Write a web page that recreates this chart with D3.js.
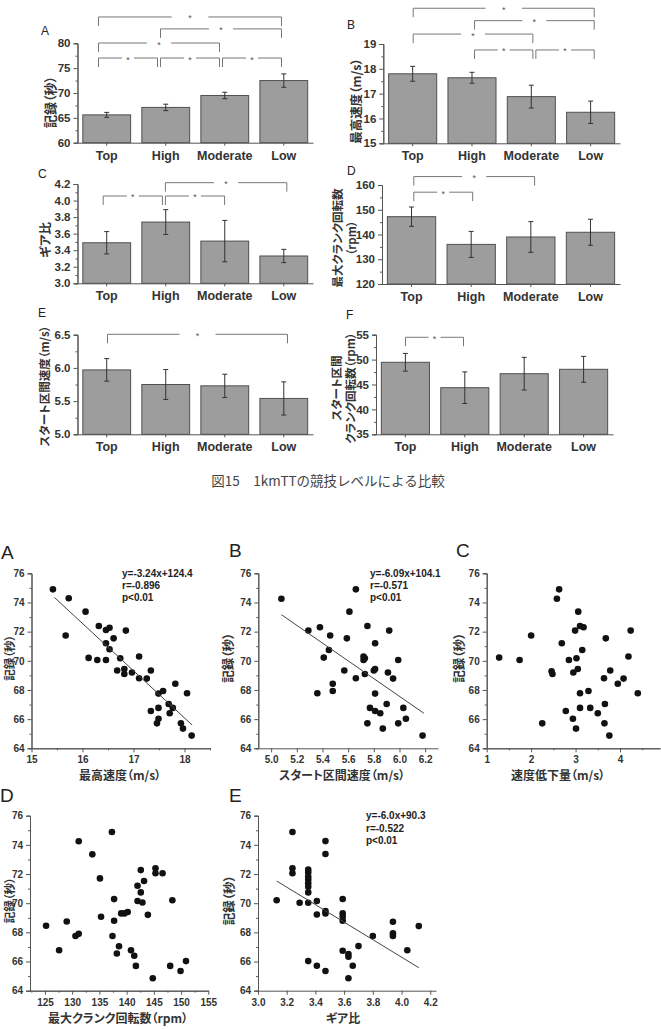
<!DOCTYPE html>
<html>
<head>
<meta charset="utf-8">
<script src="https://cdn.jsdelivr.net/npm/d3@7"></script>
<style>
body { margin: 0; background: #fff; }
text { fill: #333; }
.jp { font-family: "Noto Sans CJK JP", sans-serif; font-weight: bold; font-feature-settings: "palt"; }
.num { font-family: "Liberation Sans", Arial, sans-serif; font-weight: bold; }
.letter { font-family: "Liberation Sans", Arial, sans-serif; font-weight: normal; fill: #222; }
</style>
</head>
<body>
<div id="chart"></div>
<script>
var groups = ["Top", "High", "Moderate", "Low"];

// Fig.15 bar panels: mean, SD, axis ticks, significant pairs [from, to, bracket height]
var recordMean = [65.6, 67.1, 69.5, 72.5];
var recordSd = [0.5, 0.65, 0.65, 1.35];
var recordTicks = [60, 65, 70, 75, 80];
var recordSig = [[0, 3, 85.3], [1, 3, 82.9], [0, 2, 80.06], [0, 1, 77.04], [1, 2, 77.04], [2, 3, 77.04]];

var topSpeedMean = [17.8, 17.64, 16.88, 16.25];
var topSpeedSd = [0.3, 0.22, 0.46, 0.45];
var topSpeedTicks = [15, 16, 17, 18, 19];
var topSpeedSig = [[0, 3, 20.44], [1, 3, 19.94], [0, 2, 19.4], [1, 2, 18.76], [2, 3, 18.76]];

var gearMean = [3.49, 3.74, 3.51, 3.33];
var gearSd = [0.135, 0.15, 0.25, 0.08];
var gearTicks = [3.0, 3.2, 3.4, 3.6, 3.8, 4.0, 4.2];
var gearSig = [[1, 3, 4.216], [0, 1, 4.055], [1, 2, 4.055]];

var crankMean = [147.2, 136.0, 139.0, 140.9];
var crankSd = [3.9, 5.25, 6.2, 5.25];
var crankTicks = [120, 130, 140, 150, 160];
var crankSig = [[0, 2, 163.4], [0, 1, 157.1]];

var startSpeedMean = [5.97, 5.75, 5.73, 5.54];
var startSpeedSd = [0.17, 0.225, 0.175, 0.25];
var startSpeedTicks = [5.0, 5.5, 6.0, 6.5];
var startSpeedSig = [[0, 3, 6.506]];

var startCrankMean = [49.46, 44.36, 47.17, 48.05];
var startCrankSd = [1.78, 3.17, 3.28, 2.6];
var startCrankTicks = [35, 40, 45, 50, 55];
var startCrankSig = [[0, 1, 54.48]];

// scatter panels: record (s) against each variable
var recordTicksScatter = [64, 66, 68, 70, 72, 74, 76];

var speedX = [15.42, 15.73, 15.67, 16.06, 16.12, 16.29, 16.46, 16.32, 16.46, 16.53, 16.46, 16.61, 16.53, 16.85, 16.74, 17.11, 16.68, 16.82, 16.82, 16.97, 17.34, 17.11, 17.26, 17.82, 17.49, 17.58, 18.05, 17.69, 17.77, 17.49, 17.34, 17.71, 17.46, 17.49, 17.93, 17.97, 18.14];
var speedY = [74.9, 74.29, 71.73, 73.37, 70.2, 70.06, 70.06, 72.39, 72.11, 72.27, 71.2, 71.54, 70.79, 72.07, 70.17, 70.29, 69.33, 69.44, 69.1, 69.2, 69.33, 68.8, 68.78, 68.43, 67.75, 67.93, 67.77, 67.04, 66.77, 66.77, 66.56, 66.4, 65.71, 66.03, 65.71, 65.35, 64.87];
var speedTicks = [15, 16, 17, 18];
var speedFit = [-3.24, 124.4, 15.45, 18.15];
var speedStats = ["y=-3.24x+124.4", "r=-0.896", "p<0.01"];

var startX = [5.08, 5.29, 5.38, 5.46, 5.45, 5.41, 5.36, 5.48, 5.48, 5.57, 5.59, 5.61, 5.66, 5.66, 5.72, 5.72, 5.73, 5.73, 5.75, 5.75, 5.77, 5.80, 5.81, 5.81, 5.81, 5.81, 5.85, 5.87, 5.90, 5.91, 5.92, 5.95, 5.99, 5.99, 6.03, 6.05, 6.18];
var startY = [74.26, 72.07, 72.3, 71.73, 70.74, 70.22, 67.77, 68.43, 67.93, 69.33, 71.54, 73.37, 74.9, 68.8, 70.29, 70.06, 70.17, 69.1, 72.39, 65.71, 66.77, 69.33, 69.44, 71.2, 67.75, 66.56, 66.4, 65.35, 67.04, 69.2, 72.07, 68.78, 70.06, 65.71, 66.77, 66.03, 64.87];
var startTicks = [5.0, 5.2, 5.4, 5.6, 5.8, 6.0, 6.2];
var startFit = [-6.09, 104.1, 5.08, 6.19];
var startStats = ["y=-6.09x+104.1", "r=-0.571", "p<0.01"];

var dropX = [2.63, 2.58, 3.06, 2.00, 2.69, 2.99, 3.10, 3.18, 3.15, 3.68, 4.24, 1.28, 1.74, 2.85, 3.02, 4.19, 2.46, 2.48, 2.95, 3.05, 3.78, 3.64, 4.08, 3.95, 3.29, 3.10, 4.40, 2.78, 3.10, 3.33, 3.66, 3.50, 2.25, 2.94, 3.01, 3.65, 3.76];
var dropY = [74.9, 74.26, 73.37, 71.73, 71.2, 72.07, 72.39, 72.3, 70.74, 71.54, 72.07, 70.22, 70.06, 70.06, 70.17, 70.29, 69.28, 69.1, 69.2, 69.44, 69.33, 68.8, 68.78, 68.43, 67.93, 67.77, 67.77, 66.56, 66.77, 66.77, 67.04, 66.4, 65.71, 66.03, 65.35, 65.71, 64.87];
var dropTicks = [1, 2, 3, 4];

var crankX = [125.2, 127.6, 129.0, 130.6, 131.2, 131.2, 133.7, 135.1, 135.3, 137.3, 137.7, 137.7, 137.4, 138.6, 138.2, 139.0, 139.6, 140.2, 140.8, 141.4, 141.7, 142.0, 142.0, 142.6, 142.6, 142.9, 143.2, 143.9, 144.8, 145.3, 145.3, 146.6, 148.4, 148.0, 149.9, 150.9];
var crankY = [68.45, 66.77, 68.75, 67.75, 67.9, 74.25, 73.35, 71.7, 69.07, 74.88, 70.28, 68.8, 67.75, 67.05, 66.55, 69.3, 69.3, 69.4, 66.77, 66.4, 65.7, 71.2, 70.15, 72.27, 70.74, 70.05, 71.52, 69.2, 64.85, 72.39, 72.05, 72.05, 70.2, 65.7, 65.35, 66.03];
var crankScatterTicks = [125, 130, 135, 140, 145, 150, 155];

var gearX = [3.13, 3.24, 3.24, 3.24, 3.29, 3.35, 3.35, 3.35, 3.35, 3.35, 3.35, 3.35, 3.35, 3.35, 3.41, 3.41, 3.41, 3.47, 3.47, 3.47, 3.47, 3.47, 3.59, 3.59, 3.59, 3.59, 3.59, 3.63, 3.63, 3.63, 3.66, 3.70, 3.80, 3.94, 3.94, 3.94, 4.04, 4.12];
var gearY = [70.2, 74.88, 72.39, 72.05, 70.03, 72.3, 72.1, 71.82, 71.6, 71.36, 71.13, 70.74, 70.03, 66.03, 70.15, 69.23, 65.71, 74.26, 73.37, 69.46, 69.3, 65.35, 70.29, 69.3, 69.07, 68.8, 66.74, 66.51, 66.33, 64.85, 65.71, 67.06, 67.75, 68.73, 67.93, 67.75, 66.77, 68.43];
var gearScatterTicks = [3.0, 3.2, 3.4, 3.6, 3.8, 4.0, 4.2];
var gearFit = [-6.0, 90.3, 3.13, 4.12];
var gearStats = ["y=-6.0x+90.3", "r=-0.522", "p<0.01"];

var width = 661;
var height = 1029;
var svg = d3.select('#chart')
    .append("svg")
    .attr("width", width)
    .attr("height", height);

function styleAxis(sel) {
    sel.select('.domain').attr('stroke', '#555');
    sel.selectAll('.tick line').attr('stroke', '#555');
    sel.selectAll('.tick text').attr('fill', '#333');
}

function minorValues(ticks, dom) {
    var step = ticks[1] - ticks[0];
    return d3.range(ticks[0] - step / 2, dom[1] + 1e-9, step)
        .filter(function (v) { return v >= dom[0] - 1e-9; });
}

function rotatedText(g, lines, xs, y, size) {
    lines.forEach(function (t, i) {
        g.append('text')
            .classed('jp', true)
            .attr('transform', 'translate(' + xs[i] + ',' + y + ') rotate(-90)')
            .attr('text-anchor', 'middle')
            .attr('dominant-baseline', 'central')
            .style('font-size', size + 'px')
            .text(t);
    });
}

var barPanels = [
    { letter: "A", mean: recordMean, sd: recordSd, ticks: recordTicks, sig: recordSig, fmt: "d",
      x: [77.5, 313], y: [142.7, 43.3], br: [97, 283], title: ["記録（秒）"], tx: [49], ty: 102, ts: 13, lx: 41, ly: 35 },
    { letter: "B", mean: topSpeedMean, sd: topSpeedSd, ticks: topSpeedTicks, sig: topSpeedSig, fmt: "d",
      x: [383.3, 620], y: [143.3, 44], br: [411.7, 595.7], title: ["最高速度（m/s）"], tx: [355], ty: 101, ts: 12.5, lx: 347, ly: 29 },
    { letter: "C", mean: gearMean, sd: gearSd, ticks: gearTicks, sig: gearSig, fmt: ".1f",
      x: [77.5, 313], y: [283.3, 184], br: [101.7, 288.3], title: ["ギア比"], tx: [44], ty: 240, ts: 12.5, lx: 38, ly: 178 },
    { letter: "D", mean: crankMean, sd: crankSd, ticks: crankTicks, sig: crankSig, fmt: "d",
      x: [382, 620], y: [284, 185], br: [412.3, 598], title: ["最大クランク回転数", "（rpm）"], tx: [337, 351], ty: 238, ts: 11.5, lx: 347, ly: 175 },
    { letter: "E", mean: startSpeedMean, sd: startSpeedSd, ticks: startSpeedTicks, sig: startSpeedSig, fmt: ".1f",
      x: [77.5, 313], y: [434.3, 334.7], br: [106, 289], title: ["スタート区間速度（m/s）"], tx: [44], ty: 386, ts: 11.5, lx: 38, ly: 317 },
    { letter: "F", mean: startCrankMean, sd: startCrankSd, ticks: startCrankTicks, sig: startCrankSig, fmt: "d",
      x: [376, 613], y: [434.3, 334.7], br: [404, 587], title: ["スタート区間", "クランク回転数（rpm）"], tx: [336, 350], ty: 388, ts: 11.5, lx: 346, ly: 319 }
];

barPanels.forEach(function (p) {
    var g = svg.append('g');
    var dom = [p.ticks[0], p.ticks[p.ticks.length - 1]];
    var yScale = d3.scaleLinear().domain(dom).range(p.y);
    var xScale = d3.scaleBand().domain(groups).range(p.x).paddingInner(0.19).paddingOuter(0.09);
    var bx = d3.scalePoint().domain(groups).range(p.br);
    var rows = groups.map(function (k, i) { return { k: k, m: p.mean[i], s: p.sd[i] }; });

    g.selectAll('.bar')
        .data(rows)
        .enter()
        .append('rect')
        .classed('bar', true)
        .attr('x', function (d) { return xScale(d.k); })
        .attr('y', function (d) { return yScale(d.m); })
        .attr('width', xScale.bandwidth())
        .attr('height', function (d) { return p.y[0] - yScale(d.m); })
        .style('fill', '#9d9d9d')
        .style('stroke', '#505050')
        .style('stroke-width', 1);

    var err = g.selectAll('.err')
        .data(rows)
        .enter()
        .append('g')
        .classed('err', true)
        .attr('transform', function (d) { return 'translate(' + (xScale(d.k) + xScale.bandwidth() / 2) + ',0)'; });
    err.append('line')
        .attr('y1', function (d) { return yScale(d.m - d.s); })
        .attr('y2', function (d) { return yScale(d.m + d.s); })
        .attr('stroke', '#333');
    err.append('line')
        .attr('x1', -2.5).attr('x2', 2.5)
        .attr('y1', function (d) { return yScale(d.m + d.s); })
        .attr('y2', function (d) { return yScale(d.m + d.s); })
        .attr('stroke', '#333');
    err.append('line')
        .attr('x1', -2.5).attr('x2', 2.5)
        .attr('y1', function (d) { return yScale(d.m - d.s); })
        .attr('y2', function (d) { return yScale(d.m - d.s); })
        .attr('stroke', '#333');

    g.append('g')
        .attr('transform', 'translate(' + p.x[0] + ',0)')
        .call(d3.axisLeft(yScale).tickValues(minorValues(p.ticks, dom)).tickSize(2).tickFormat(''))
        .call(styleAxis);
    g.append('g')
        .classed('num', true)
        .attr('transform', 'translate(' + p.x[0] + ',0)')
        .call(d3.axisLeft(yScale).tickValues(p.ticks).tickSize(4).tickPadding(3).tickFormat(d3.format(p.fmt)))
        .call(styleAxis)
        .selectAll('text')
        .style('font-size', '11.5px')
        .style('font-family', '"Liberation Sans", Arial, sans-serif');
    g.append('g')
        .attr('transform', 'translate(0,' + p.y[0] + ')')
        .call(d3.axisBottom(xScale).tickSize(3).tickSizeOuter(0).tickPadding(5))
        .call(styleAxis)
        .selectAll('text')
        .classed('num', true)
        .style('font-size', '12.5px')
        .style('font-family', '"Liberation Sans", Arial, sans-serif');

    // significance brackets
    p.sig.forEach(function (s) {
        var xa = bx(groups[s[0]]) + 1.5;
        var xb = bx(groups[s[1]]) - 1.5;
        var yy = yScale(s[2]);
        var mid = (xa + xb) / 2;
        var gap = Math.max(12, (xb - xa) * 0.2);
        g.append('path')
            .attr('d', 'M' + xa + ',' + (yy + 9) + 'V' + yy + 'H' + (mid - gap / 2) +
                'M' + (mid + gap / 2) + ',' + yy + 'H' + xb + 'V' + (yy + 9))
            .attr('fill', 'none')
            .attr('stroke', '#777')
            .attr('stroke-width', 1);
        g.append('text')
            .attr('x', mid)
            .attr('y', yy + 4.5)
            .attr('text-anchor', 'middle')
            .style('font-family', '"Liberation Sans", Arial, sans-serif')
            .style('font-size', '9px')
            .style('fill', '#555')
            .text('*');
    });

    rotatedText(g, p.title, p.tx, p.ty, p.ts);
    g.append('text')
        .classed('letter', true)
        .attr('x', p.lx)
        .attr('y', p.ly)
        .style('font-size', '12px')
        .text(p.letter);
});

svg.append('text')
    .attr('x', 328)
    .attr('y', 486)
    .attr('text-anchor', 'middle')
    .style('font-family', '"Noto Sans CJK JP", sans-serif')
    .style('font-size', '13.5px')
    .style('fill', '#444')
    .text('図15　1kmTTの競技レベルによる比較');

var scatterPanels = [
    { letter: "A", xs: speedX, ys: speedY, ticks: speedTicks, fmt: "d", minor: true, dom: [15, 18.5],
      x: [31.5, 210], y: [748.3, 573.3], fit: speedFit, stats: speedStats, sx: 122,
      xTitle: "最高速度（m/s）", xtx: 120, ytx: 8.5, lx: 1, ly: 559 },
    { letter: "B", xs: startX, ys: startY, ticks: startTicks, fmt: ".1f", minor: false, dom: [4.9, 6.3],
      x: [258.3, 438], y: [748.3, 573.3], fit: startFit, stats: startStats, sx: 370,
      xTitle: "スタート区間速度（m/s）", xtx: 342, ytx: 227, lx: 229, ly: 557 },
    { letter: "C", xs: dropX, ys: dropY, ticks: dropTicks, fmt: "d", minor: true, dom: [1, 4.9],
      x: [486.7, 660], y: [748.3, 573.3], fit: null, stats: null, sx: 0,
      xTitle: "速度低下量（m/s）", xtx: 558, ytx: 458, lx: 456, ly: 557 },
    { letter: "D", xs: crankX, ys: crankY, ticks: crankScatterTicks, fmt: "d", minor: true, dom: [122.25, 155],
      x: [30, 208.3], y: [990.7, 815.7], fit: null, stats: null, sx: 0,
      xTitle: "最大クランク回転数（rpm）", xtx: 118, ytx: 8.5, lx: 0, ly: 802 },
    { letter: "E", xs: gearX, ys: gearY, ticks: gearScatterTicks, fmt: ".1f", minor: false, dom: [3.0, 4.24],
      x: [258, 436], y: [990.7, 815.7], fit: gearFit, stats: gearStats, sx: 366,
      xTitle: "ギア比", xtx: 343, ytx: 228, lx: 229, ly: 802 }
];

scatterPanels.forEach(function (p) {
    var g = svg.append('g');
    var xScale = d3.scaleLinear().domain(p.dom).range(p.x);
    var yScale = d3.scaleLinear().domain([64, 76]).range(p.y);

    g.append('g')
        .attr('transform', 'translate(' + p.x[0] + ',0)')
        .call(d3.axisLeft(yScale).tickValues(d3.range(65, 76, 2)).tickSize(2).tickFormat(''))
        .call(styleAxis);
    g.append('g')
        .attr('transform', 'translate(' + p.x[0] + ',0)')
        .call(d3.axisLeft(yScale).tickValues(recordTicksScatter).tickSize(4).tickPadding(3).tickFormat(d3.format('d')))
        .call(styleAxis)
        .selectAll('text')
        .classed('num', true)
        .style('font-size', '10px');
    if (p.minor) {
        g.append('g')
            .attr('transform', 'translate(0,' + p.y[0] + ')')
            .call(d3.axisBottom(xScale).tickValues(minorValues(p.ticks, p.dom)).tickSize(2).tickSizeOuter(0).tickFormat(''))
            .call(styleAxis);
    }
    g.append('g')
        .attr('transform', 'translate(0,' + p.y[0] + ')')
        .call(d3.axisBottom(xScale).tickValues(p.ticks).tickSize(4).tickSizeOuter(0).tickPadding(4).tickFormat(d3.format(p.fmt)))
        .call(styleAxis)
        .selectAll('text')
        .classed('num', true)
        .style('font-size', '10px');

    var pts = p.xs.map(function (v, i) { return { x: v, y: p.ys[i] }; });
    g.selectAll('.pt')
        .data(pts)
        .enter()
        .append('circle')
        .classed('pt', true)
        .attr('cx', function (d) { return xScale(d.x); })
        .attr('cy', function (d) { return yScale(d.y); })
        .attr('r', 3.3)
        .style('fill', '#111');

    if (p.fit) {
        var f = p.fit;
        g.append('line')
            .attr('x1', xScale(f[2]))
            .attr('y1', yScale(f[0] * f[2] + f[1]))
            .attr('x2', xScale(f[3]))
            .attr('y2', yScale(f[0] * f[3] + f[1]))
            .attr('stroke', '#444')
            .attr('stroke-width', 1);
        g.selectAll('.stat')
            .data(p.stats)
            .enter()
            .append('text')
            .classed('stat', true)
            .attr('x', p.sx)
            .attr('y', function (d, i) { return p.y[1] + 3.5 + i * 12.3; })
            .style('font-family', '"Liberation Sans", Arial, sans-serif')
            .style('font-size', '10px')
            .style('font-weight', 'bold')
            .style('fill', '#222')
            .text(function (d) { return d; });
    }

    g.append('text')
        .classed('jp', true)
        .attr('x', p.xtx)
        .attr('y', p.y[0] + 32)
        .attr('text-anchor', 'middle')
        .style('font-size', '12px')
        .text(p.xTitle);
    rotatedText(g, ["記録（秒）"], [p.ytx], (p.y[0] + p.y[1]) / 2 - 3, p.ytx < 20 ? 11.5 : 12.5);
    g.append('text')
        .classed('letter', true)
        .attr('x', p.lx)
        .attr('y', p.ly)
        .style('font-size', '19px')
        .text(p.letter);
});
</script>
</body>
</html>
